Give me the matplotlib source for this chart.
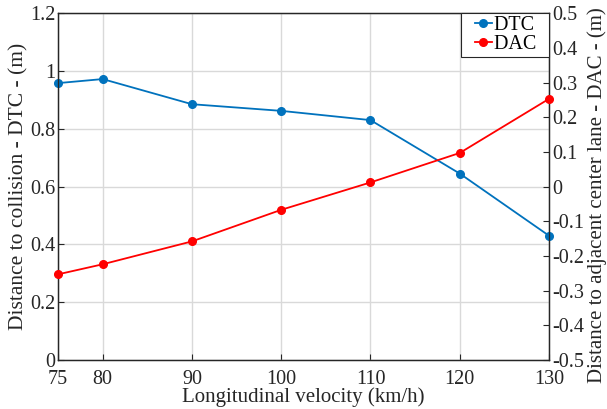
import matplotlib
matplotlib.use("Agg")
import matplotlib.pyplot as plt
from matplotlib.ticker import FuncFormatter
from matplotlib.legend_handler import HandlerLine2D

plt.rcParams['font.family'] = ['Liberation Serif', 'DejaVu Serif']
plt.rcParams['axes.unicode_minus'] = False

velocity = [75, 80, 90, 100, 110, 120, 130]
dtc = [0.958, 0.972, 0.885, 0.862, 0.830, 0.645, 0.430]
dac = [-0.253, -0.224, -0.158, -0.067, 0.012, 0.097, 0.253]
xticks = [75, 80, 90, 100, 110, 120, 130]
left_ticks = [0, 0.2, 0.4, 0.6, 0.8, 1.0, 1.2]
right_ticks = [-0.5, -0.4, -0.3, -0.2, -0.1, 0, 0.1, 0.2, 0.3, 0.4, 0.5]

blue = (0, 0.447, 0.741)
red = (1, 0, 0)
fs = 14.5
tc = '#262626'

fig = plt.figure(figsize=(6.07, 4.09), dpi=100)
ax = fig.add_axes([0.0956, 0.1198, 0.8089, 0.848])
ax2 = ax.twinx()

l1, = ax.plot(velocity, dtc, color=blue, marker='o', markersize=5.5, linewidth=1.3, label='DTC', clip_on=False, zorder=3)
l2, = ax2.plot(velocity, dac, color=red, marker='o', markersize=5.5, linewidth=1.3, label='DAC', clip_on=False, zorder=3)

ax.set_xlim(75, 130)
ax.set_ylim(0, 1.2)
ax2.set_ylim(-0.5, 0.5)
ax.set_xticks(xticks)
ax.set_yticks(left_ticks)
ax2.set_yticks(right_ticks)
fmt = FuncFormatter(lambda v, p: ('%g' % round(v, 3)))
ax.yaxis.set_major_formatter(fmt)
ax2.yaxis.set_major_formatter(fmt)

ax.grid(True, color=(0.85, 0.85, 0.85), linewidth=1.0)
ax.set_axisbelow(True)

for a in (ax, ax2):
    a.tick_params(direction='in', labelsize=fs, length=4, width=0.8, colors=tc, pad=2)
    for s in a.spines.values():
        s.set_color(tc)
        s.set_linewidth(0.9)
ax.tick_params(axis='x', pad=7)

ax.set_xlabel('Longitudinal velocity (km/h)', fontsize=15, labelpad=-1, color=tc)
fig.text(19 / 607, 1 - 186 / 409, 'Distance to collision - DTC - (m)', fontsize=15.5, color=tc,
         rotation=90, ha='center', va='center')
fig.text(597 / 607, 1 - 195 / 409, 'Distance to adjacent center lane - DAC - (m)', fontsize=15, color=tc,
         rotation=90, ha='center', va='center')

hm = {l1: HandlerLine2D(xpad=0.54), l2: HandlerLine2D(xpad=0.54)}
leg = ax2.legend(handles=[l1, l2], labels=['DTC  ', 'DAC  '], loc='upper right', fontsize=14.5,
                 frameon=True, fancybox=False, edgecolor=tc, framealpha=1, borderpad=0.15,
                 handlelength=1.38, handletextpad=0.1, labelspacing=0.0, borderaxespad=0.0,
                 handler_map=hm)
leg.get_frame().set_linewidth(0.8)

fig.savefig('out.png', dpi=100)
